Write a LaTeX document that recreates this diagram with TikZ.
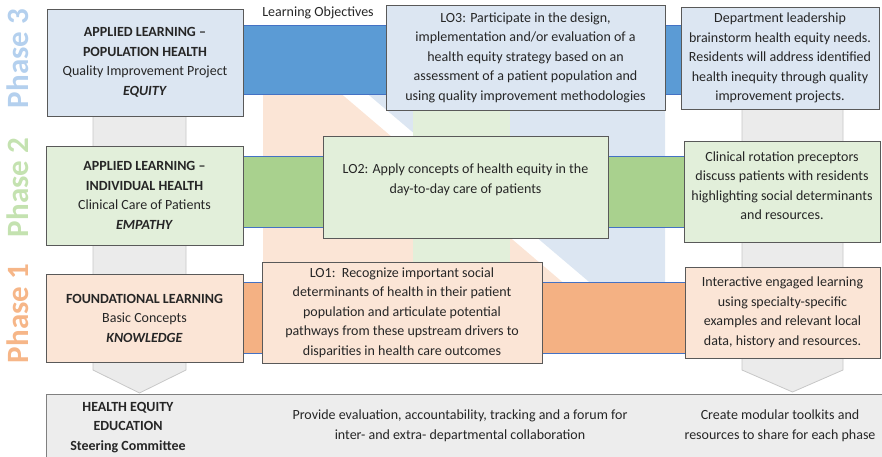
\documentclass[tikz,border=0pt]{standalone}
\usepackage{fontspec}
\setmainfont{Carlito}

\definecolor{bluefill}{HTML}{DCE6F2}
\definecolor{greenfill}{HTML}{E2EFDA}
\definecolor{peachfill}{HTML}{FBE5D6}
\definecolor{blueband}{HTML}{5B9BD5}
\definecolor{greenband}{HTML}{A9D18E}
\definecolor{orangeband}{HTML}{F4B183}
\definecolor{bandline}{HTML}{4472C4}
\definecolor{boxline}{HTML}{595959}
\definecolor{arrowgray}{HTML}{EBEBEB}
\definecolor{steergray}{HTML}{EDEDED}
\definecolor{phasethree}{HTML}{B4D0EE}
\definecolor{phasetwo}{HTML}{C4E2B0}
\definecolor{phaseone}{HTML}{F6B688}

\pgfdeclarelayer{bg}
\pgfdeclarelayer{mid}
\pgfsetlayers{bg,mid,main}

\begin{document}
\begin{tikzpicture}[x=1pt, y=-1pt,
		txt/.style={align=center, inner sep=0pt, text=black!85, font=\fontsize{14}{19.5}\selectfont},
		box/.style={txt, draw=boxline, line width=1pt},
		band/.style={draw=bandline, line width=1pt},
		flowarrow/.style={fill=arrowgray, draw=black!22, line width=0.8pt},
		phase/.style={rotate=90, inner sep=0pt, font=\fontsize{31}{31}\selectfont\bfseries}]
	\useasboundingbox (0,0) rectangle (882,456);

	% Phase labels
	\node[phase, text=phasethree] (ph3) at (18,58.5) {Phase 3};
	\node[phase, text=phasetwo] (ph2) at (18,187.5) {Phase 2};
	\node[phase, text=phaseone] (ph1) at (18,313.5) {Phase 1};

	% Left column
	\node[box, fill=bluefill, minimum width=196pt, minimum height=107pt] (p3left) at (145,62.5)
		{\textbf{APPLIED LEARNING –}\\\textbf{POPULATION HEALTH}\\Quality Improvement Project\\\textbf{\textit{EQUITY}}};
	\node[box, fill=greenfill, minimum width=197pt, minimum height=99pt] (p2left) at (144.5,195.5)
		{\textbf{APPLIED LEARNING –}\\\textbf{INDIVIDUAL HEALTH}\\Clinical Care of Patients\\\textbf{\textit{EMPATHY}}};
	\node[box, fill=peachfill, minimum width=197pt, minimum height=88pt] (p1left) at (144.5,318)
		{\textbf{FOUNDATIONAL LEARNING}\\Basic Concepts\\\textbf{\textit{KNOWLEDGE}}};

	% Learning objectives
	\node[txt] (lotitle) at (318,13) {Learning Objectives};
	\node[box, fill=bluefill, minimum width=279pt, minimum height=105pt] (lo3) at (525.5,57.5)
		{LO3: Participate in the design,\\implementation and/or evaluation of a\\health equity strategy based on an\\assessment of a patient population and\\using quality improvement methodologies};
	\node[box, fill=greenfill, minimum width=285pt, minimum height=102pt] (lo2) at (465.5,187) {};
	\node[txt, yshift=7pt] at (lo2) {LO2: Apply concepts of health equity in the\\day-to-day care of patients};
	\node[box, fill=peachfill, minimum width=280pt, minimum height=101pt] (lo1) at (402,312.5)
		{LO1:\ \ Recognize important social\\determinants of health in their patient\\population and articulate potential\\pathways from these upstream drivers to\\disparities in health care outcomes};

	% Right column
	\node[box, fill=bluefill, minimum width=198pt, minimum height=102pt] (p3right) at (780,58)
		{Department leadership\\brainstorm health equity needs.\\Residents will address identified\\health inequity through quality\\improvement projects.};
	\node[box, fill=greenfill, minimum width=196pt, minimum height=101pt] (p2right) at (782,191.5) {};
	\node[txt, yshift=6pt] at (p2right) {Clinical rotation preceptors\\discuss patients with residents\\highlighting social determinants\\and resources.};
	\node[box, fill=peachfill, minimum width=195pt, minimum height=91pt] (p1right) at (782.5,312.5)
		{Interactive engaged learning\\using specialty-specific\\examples and relevant local\\data, history and resources.};

	% Steering committee
	\node[box, fill=steergray, draw=black!50, anchor=north west, minimum width=842pt, minimum height=70pt] (steer) at (46,394) {};
	\node[txt] (steertitle) at (128,427.5) {\textbf{HEALTH EQUITY}\\\textbf{EDUCATION}\\\textbf{Steering Committee}};
	\node[txt] (steermid) at (460,426) {Provide evaluation, accountability, tracking and a forum for\\inter- and extra- departmental collaboration};
	\node[txt] (steerright) at (780,426) {Create modular toolkits and\\resources to share for each phase};

	% Bands from left to right column
	\begin{pgfonlayer}{mid}
		\filldraw[band, fill=blueband] (p3left.center |- 0,25) rectangle (p3right.center |- 0,94);
		\filldraw[band, fill=greenband] (p2left.center |- 0,156) rectangle (p2right.center |- 0,227);
		\filldraw[band, fill=orangeband] (p1left.center |- 0,282) rectangle (p1right.center |- 0,353);
	\end{pgfonlayer}

	% Backdrop and down arrows
	\begin{pgfonlayer}{bg}
		\fill[peachfill] (263,40) -- (278,40) -- (607,320) -- (263,320) -- cycle;
		\fill[bluefill] (304,40) -- (665,40) -- (665,320) -- (634,320) -- cycle;
		\fill[greenfill] (413,40) rectangle (510,320);

		\coordinate (ltip) at (139.5,393);
		\coordinate (rtip) at (792.5,392);
		\draw[flowarrow] (ltip) -- ++(-46.5,-23) -- ++(0,-270) -- ++(93,0) -- ++(0,270) -- cycle;
		\draw[flowarrow] (rtip) -- ++(-50.5,-22) -- ++(0,-270) -- ++(101,0) -- ++(0,270) -- cycle;
	\end{pgfonlayer}
\end{tikzpicture}
\end{document}
